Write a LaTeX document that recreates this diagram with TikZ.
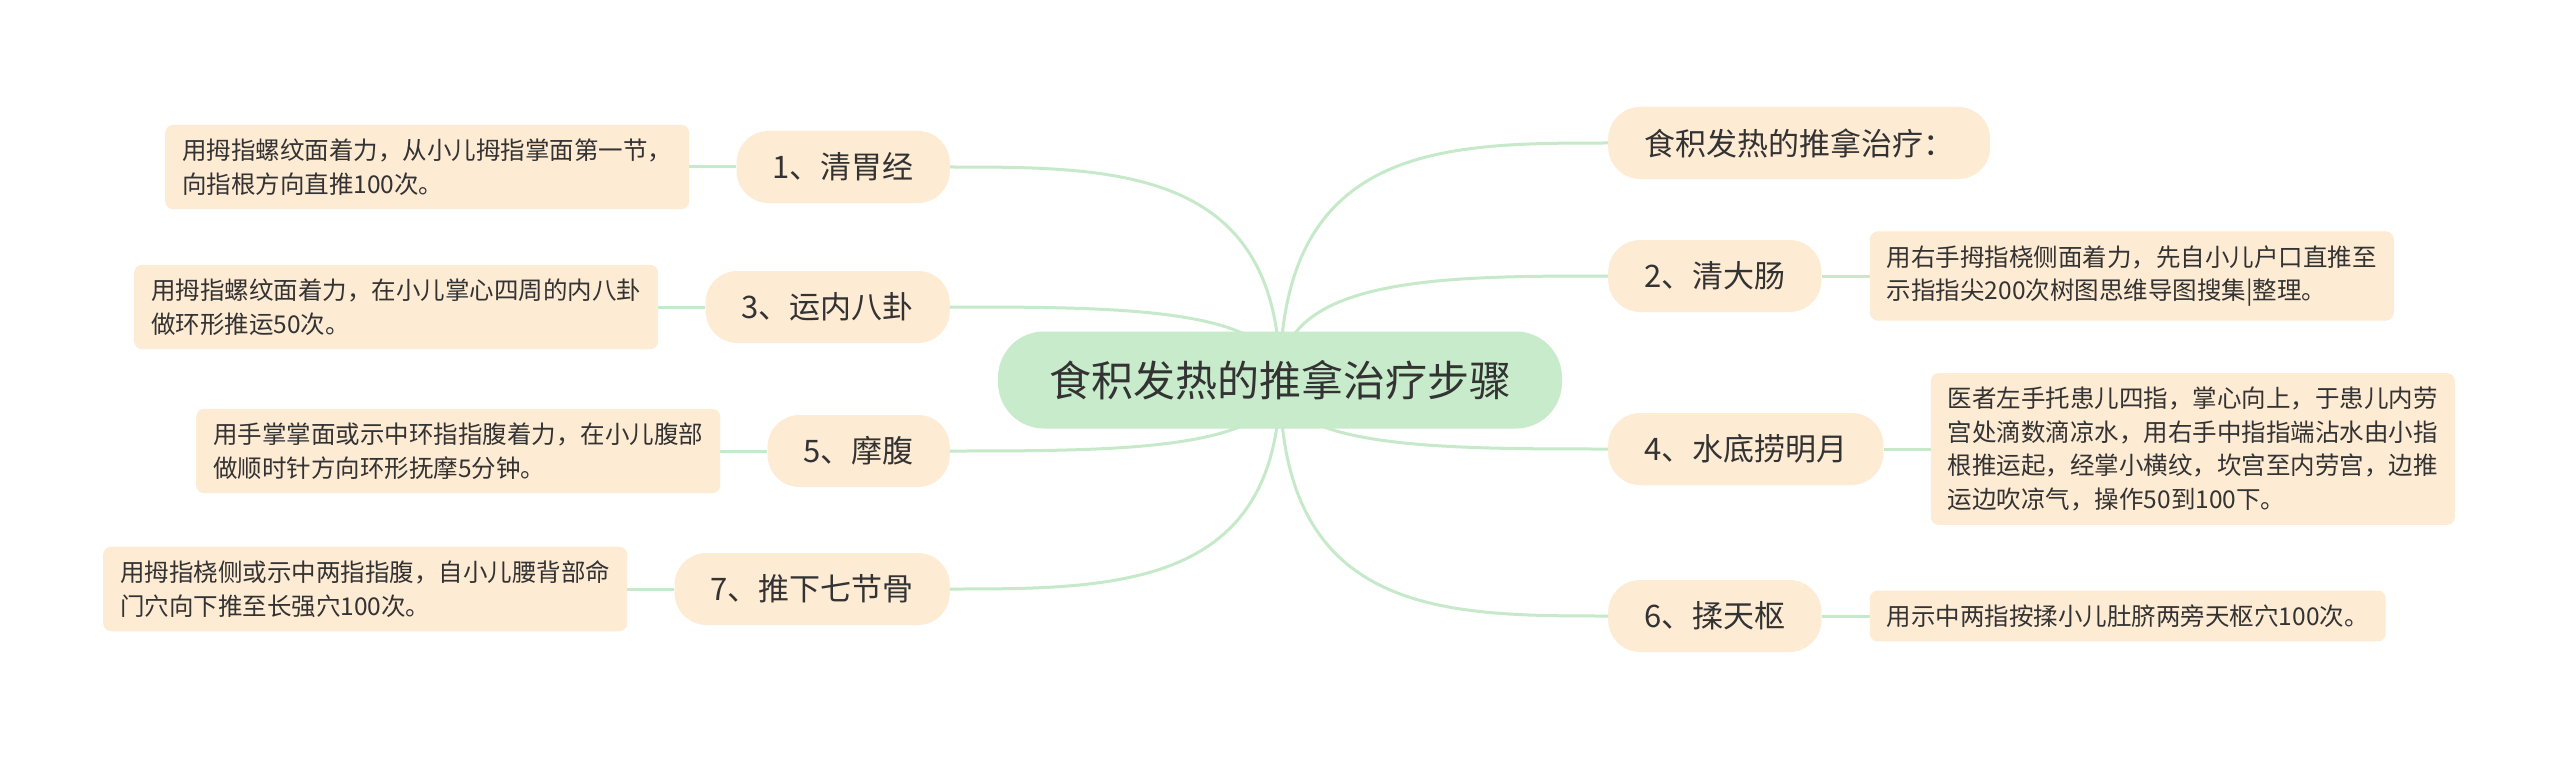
\documentclass[tikz,border=0pt]{standalone}
\usepackage{fontspec}
\setmainfont{Noto Sans CJK SC}
\usetikzlibrary{calc,positioning}
\definecolor{RootGreen}{RGB}{200,235,203}
\definecolor{LinkGreen}{RGB}{198,233,202}
\definecolor{PeachFill}{RGB}{253,235,212}
\definecolor{TextGray}{RGB}{51,51,51}
\pgfdeclarelayer{bg}
\pgfsetlayers{bg,main}
\newcommand{\rootlink}[1]{%
  \draw[link] (root.center) .. controls (root.center |- #1) and ($(root.center |- #1)!0.5!(#1)$) .. (#1);}

\begin{document}
\begin{tikzpicture}[x=1pt,y=-1pt,
  link/.style={LinkGreen,line width=3pt},
  rootbox/.style={fill=RootGreen,rounded corners=46pt,minimum width=564pt,minimum height=97pt,
    text=TextGray,font=\fontsize{42}{50}\selectfont},
  topic/.style={fill=PeachFill,rounded corners=32pt,minimum height=72pt,inner xsep=36pt,
    text=TextGray,font=\fontsize{31}{37}\selectfont},
  note/.style={fill=PeachFill,rounded corners=8pt,inner xsep=17pt,inner ysep=14pt,align=left,
    text=TextGray,font=\fontsize{24.5}{33.5}\selectfont}]
  \useasboundingbox (0,0) rectangle (2560,757);
  \node[rootbox] (root) at (1280,380) {食积发热的推拿治疗步骤};
  % right side
  \node[topic,anchor=west] (intro) at (1608,143) {食积发热的推拿治疗：};
  \node[topic,anchor=west] (b2) at (1608,276) {2、清大肠};
  \node[topic,anchor=west] (b4) at (1608,449) {4、水底捞明月};
  \node[topic,anchor=west] (b6) at (1608,616) {6、揉天枢};
  % left side
  \node[topic,anchor=east] (b1) at (950,167) {1、清胃经};
  \node[topic,anchor=east] (b3) at (950,307) {3、运内八卦};
  \node[topic,anchor=east] (b5) at (950,451) {5、摩腹};
  \node[topic,anchor=east] (b7) at (950,589) {7、推下七节骨};
  % notes
  \node[note,right=48pt of b2] (d2) {用右手拇指桡侧面着力，先自小儿户口直推至\\示指指尖200次树图思维导图搜集|整理。};
  \node[note,right=47pt of b4] (d4) {医者左手托患儿四指，掌心向上，于患儿内劳\\宫处滴数滴凉水，用右手中指指端沾水由小指\\根推运起，经掌小横纹，坎宫至内劳宫，边推\\运边吹凉气，操作50到100下。};
  \node[note,right=48pt of b6] (d6) {用示中两指按揉小儿肚脐两旁天枢穴100次。};
  \node[note,left=47pt of b1] (d1) {用拇指螺纹面着力，从小儿拇指掌面第一节，\\向指根方向直推100次。};
  \node[note,left=47pt of b3] (d3) {用拇指螺纹面着力，在小儿掌心四周的内八卦\\做环形推运50次。};
  \node[note,left=47pt of b5] (d5) {用手掌掌面或示中环指指腹着力，在小儿腹部\\做顺时针方向环形抚摩5分钟。};
  \node[note,left=47pt of b7] (d7) {用拇指桡侧或示中两指指腹，自小儿腰背部命\\门穴向下推至长强穴100次。};
  \begin{pgfonlayer}{bg}
    \fill[white] (0,0) rectangle (2560,757);
    \foreach \n in {intro,b2,b4,b6} {\rootlink{\n.west}}
    \foreach \n in {b1,b3,b5,b7} {\rootlink{\n.east}}
    \foreach \n in {1,...,7} {\draw[link] (b\n) -- (d\n);}
  \end{pgfonlayer}
\end{tikzpicture}
\end{document}
